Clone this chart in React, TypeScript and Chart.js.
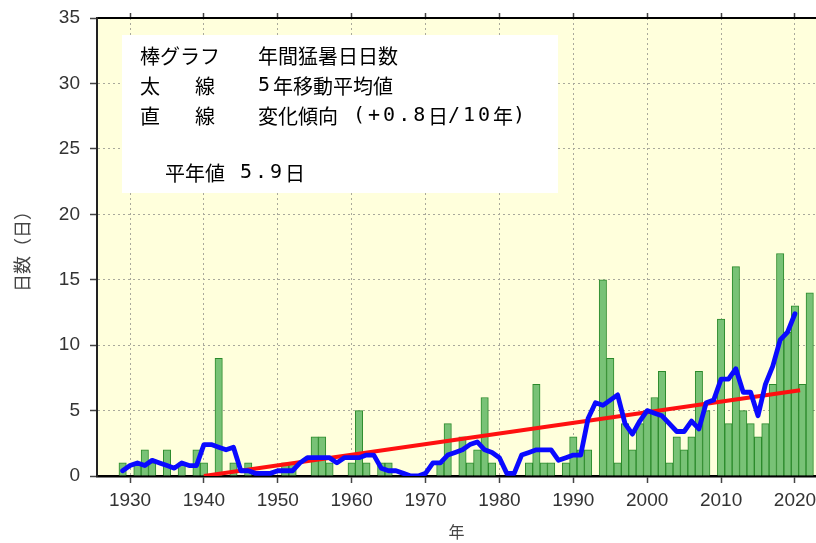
import React, { useEffect, useRef } from "react";
import { Chart, registerables } from "chart.js";

Chart.register(...registerables);

// ---- data ----
const years: number[] = [
  1927, 1928, 1929, 1930, 1931, 1932, 1933, 1934, 1935, 1936,
  1937, 1938, 1939, 1940, 1941, 1942, 1943, 1944, 1945, 1946,
  1947, 1948, 1949, 1950, 1951, 1952, 1953, 1954, 1955, 1956,
  1957, 1958, 1959, 1960, 1961, 1962, 1963, 1964, 1965, 1966,
  1967, 1968, 1969, 1970, 1971, 1972, 1973, 1974, 1975, 1976,
  1977, 1978, 1979, 1980, 1981, 1982, 1983, 1984, 1985, 1986,
  1987, 1988, 1989, 1990, 1991, 1992, 1993, 1994, 1995, 1996,
  1997, 1998, 1999, 2000, 2001, 2002, 2003, 2004, 2005, 2006,
  2007, 2008, 2009, 2010, 2011, 2012, 2013, 2014, 2015, 2016,
  2017, 2018, 2019, 2020, 2021, 2022,
];

const hotDays: number[] = [
  0, 0, 1, 0, 1, 2, 1, 0, 2, 0,
  1, 0, 2, 1, 0, 9, 0, 1, 0, 1,
  0, 0, 0, 0, 1, 1, 0, 0, 3, 3,
  1, 0, 0, 1, 5, 1, 0, 1, 1, 0,
  0, 0, 0, 0, 0, 1, 4, 0, 3, 1,
  2, 6, 1, 0, 0, 0, 0, 1, 7, 1,
  1, 0, 1, 3, 2, 2, 0, 15, 9, 1,
  4, 2, 4, 5, 6, 8, 1, 3, 2, 3,
  8, 5, 0, 12, 4, 16, 5, 4, 3, 4,
  7, 17, 11, 13, 7, 14,
];

const maYears: number[] = [
  1929, 1930, 1931, 1932, 1933, 1934, 1935, 1936, 1937, 1938,
  1939, 1940, 1941, 1942, 1943, 1944, 1945, 1946, 1947, 1948,
  1949, 1950, 1951, 1952, 1953, 1954, 1955, 1956, 1957, 1958,
  1959, 1960, 1961, 1962, 1963, 1964, 1965, 1966, 1967, 1968,
  1969, 1970, 1971, 1972, 1973, 1974, 1975, 1976, 1977, 1978,
  1979, 1980, 1981, 1982, 1983, 1984, 1985, 1986, 1987, 1988,
  1989, 1990, 1991, 1992, 1993, 1994, 1995, 1996, 1997, 1998,
  1999, 2000, 2001, 2002, 2003, 2004, 2005, 2006, 2007, 2008,
  2009, 2010, 2011, 2012, 2013, 2014, 2015, 2016, 2017, 2018,
  2019, 2020,
];

const maValues: number[] = [
  0.4, 0.8, 1.0, 0.8, 1.2, 1.0, 0.8, 0.6, 1.0, 0.8,
  0.8, 2.4, 2.4, 2.2, 2.0, 2.2, 0.4, 0.4, 0.2, 0.2,
  0.2, 0.4, 0.4, 0.4, 1.0, 1.4, 1.4, 1.4, 1.4, 1.0,
  1.4, 1.4, 1.4, 1.6, 1.6, 0.6, 0.4, 0.4, 0.2, 0.0,
  0.0, 0.2, 1.0, 1.0, 1.6, 1.8, 2.0, 2.4, 2.6, 2.0,
  1.8, 1.4, 0.2, 0.2, 1.6, 1.8, 2.0, 2.0, 2.0, 1.2,
  1.4, 1.6, 1.6, 4.4, 5.6, 5.4, 5.8, 6.2, 4.0, 3.2,
  4.2, 5.0, 4.8, 4.6, 4.0, 3.4, 3.4, 4.2, 3.6, 5.6,
  5.8, 7.4, 7.4, 8.2, 6.4, 6.4, 4.6, 7.0, 8.4, 10.4,
  11.0, 12.4,
];

const trendYears: number[] = [1940, 2020.7];
const trendValues: number[] = [0.0, 6.55];

const xTicks: number[] = [1930, 1940, 1950, 1960, 1970, 1980, 1990, 2000, 2010, 2020];
const yTicks: number[] = [0, 5, 10, 15, 20, 25, 30, 35];

const xTitle = "年";
const yTitle = "日数（日）";
const legendRows: string[][] = [
  ["棒グラフ", "", "年間猛暑日日数"],
  ["太", "線", "5年移動平均値"],
  ["直", "線", "変化傾向 (+0.8日/10年)"],
];
const normalText = "平年値 5.9日";

const CJK = "'Noto Sans CJK JP', 'Noto Sans CJK SC', sans-serif";
const LATIN = "'Liberation Sans', Arial, sans-serif";
const MONO = "'DejaVu Sans Mono', 'Liberation Mono', monospace";

function drawMixed(ctx: any, text: string, x: number, y: number) {
  const runs = text.match(/[\x20-\x7e]+|[^\x20-\x7e]+/g) || [];
  let cx = x;
  for (const run of runs) {
    if (/^[\x20-\x7e]+$/.test(run)) {
      ctx.font = `20px ${MONO}`;
      ctx.letterSpacing = "3px";
      ctx.fillText(run, cx, y);
      ctx.letterSpacing = "0px";
      cx += run.length * 15;
    } else {
      ctx.font = `20px ${CJK}`;
      ctx.fillText(run, cx, y);
      cx += ctx.measureText(run).width;
    }
  }
}

const plotBg = {
  id: "plotBg",
  beforeDraw(chart: any) {
    const { ctx, chartArea: a, width, height } = chart;
    ctx.save();
    ctx.fillStyle = "#ffffff";
    ctx.fillRect(0, 0, width, height);
    ctx.fillStyle = "#ffffdc";
    ctx.fillRect(a.left, a.top, a.right - a.left, a.bottom - a.top);
    ctx.restore();
  },
};

const legendBox = {
  id: "legendBox",
  afterDatasetsDraw(chart: any) {
    const { ctx, chartArea: a } = chart;
    const x0 = a.left + 25;
    const y0 = a.top + 17;
    ctx.save();
    ctx.fillStyle = "#ffffff";
    ctx.fillRect(x0, y0, 436, 158);
    ctx.fillStyle = "#000000";
    ctx.textBaseline = "middle";
    ctx.textAlign = "left";
    const cols = [18, 73, 136];
    legendRows.forEach((row, r) => {
      const y = y0 + 21 + r * 30;
      row.forEach((txt, c) => {
        if (txt) drawMixed(ctx, txt, x0 + cols[c], y);
      });
    });
    drawMixed(ctx, normalText, x0 + 43, y0 + 138);
    ctx.restore();
  },
};

export default function App() {
  const ref = useRef<HTMLCanvasElement>(null);

  useEffect(() => {
    if (!ref.current) return;
    const xMin = 1925.53;
    const xMax = 2022.85;
    const setXTicks = (s: any) => {
      s.ticks = xTicks.map((v) => ({ value: v }));
    };
    const chart = new Chart(ref.current, {
      type: "bar",
      data: {
        datasets: [
          {
            type: "line",
            label: "5年移動平均値",
            data: maYears.map((x, i) => ({ x, y: maValues[i] })),
            borderColor: "#0a0aff",
            borderWidth: 4.8,
            pointRadius: 0,
            tension: 0,
            borderJoinStyle: "round",
            borderCapStyle: "round",
            order: 0,
          } as any,
          {
            type: "line",
            label: "変化傾向",
            data: trendYears.map((x, i) => ({ x, y: trendValues[i] })),
            borderColor: "#ff1010",
            borderWidth: 4,
            pointRadius: 0,
            order: 1,
          } as any,
          {
            type: "bar",
            label: "年間猛暑日日数",
            data: years.map((x, i) => ({ x, y: hotDays[i] })),
            backgroundColor: "#78c276",
            borderColor: "#2b8a2b",
            borderWidth: 1,
            barPercentage: 1,
            categoryPercentage: 1,
            order: 2,
          } as any,
        ],
      },
      options: {
        responsive: false,
        animation: false,
        layout: { padding: { top: 13, left: 0, right: 0, bottom: 0 } },
        plugins: { legend: { display: false }, tooltip: { enabled: false } },
        scales: {
          x: {
            type: "linear",
            position: "bottom",
            min: xMin,
            max: xMax,
            offset: false,
            afterBuildTicks: setXTicks,
            afterFit: (s: any) => {
              s.height = 67;
              s.paddingLeft = 0;
              s.paddingRight = 0;
            },
            ticks: {
              callback: (v: any) => String(v),
              font: { size: 19, family: LATIN },
              color: "#333",
              padding: 6,
              maxRotation: 0,
              autoSkip: false,
            },
            grid: {
              color: "#a9a99c",
              lineWidth: 1,
              tickLength: 7,
              tickColor: "#444",
              tickWidth: 1.5,
              offset: false,
            },
            border: { display: true, color: "#000", width: 2.5, dash: [2, 3] },
            title: {
              display: true,
              text: xTitle,
              font: { size: 16, family: CJK },
              color: "#444",
              padding: { top: 0, bottom: 1 },
            },
          } as any,
          x2: {
            type: "linear",
            position: "top",
            min: xMin,
            max: xMax,
            offset: false,
            afterBuildTicks: setXTicks,
            afterFit: (s: any) => {
              s.height = 5;
              s.paddingLeft = 0;
              s.paddingRight = 0;
            },
            ticks: { display: false },
            grid: {
              drawOnChartArea: false,
              tickLength: 5,
              tickColor: "#444",
              tickWidth: 1.5,
              offset: false,
            },
            border: { display: true, color: "#000", width: 2 },
          } as any,
          y: {
            type: "linear",
            position: "left",
            min: 0,
            max: 35,
            afterBuildTicks: (s: any) => {
              s.ticks = yTicks.map((v) => ({ value: v }));
            },
            afterFit: (s: any) => {
              s.width = 97;
              s.paddingTop = 0;
              s.paddingBottom = 0;
            },
            ticks: {
              font: { size: 19, family: LATIN },
              color: "#333",
              padding: 10,
            },
            grid: {
              color: "#a9a99c",
              lineWidth: 1,
              tickLength: 7,
              tickColor: "#444",
              tickWidth: 1.5,
            },
            border: { display: true, color: "#222", width: 2, dash: [2, 3] },
            title: {
              display: true,
              text: yTitle,
              font: { size: 18, family: CJK },
              color: "#444",
              padding: { top: 11, bottom: 0 },
            },
          } as any,
        },
      },
      plugins: [plotBg, legendBox],
    });
    return () => chart.destroy();
  }, []);

  return (
    <div style={{ position: "absolute", left: 0, top: 0, width: 816, height: 543 }}>
      <canvas ref={ref} width={816} height={543} />
    </div>
  );
}
